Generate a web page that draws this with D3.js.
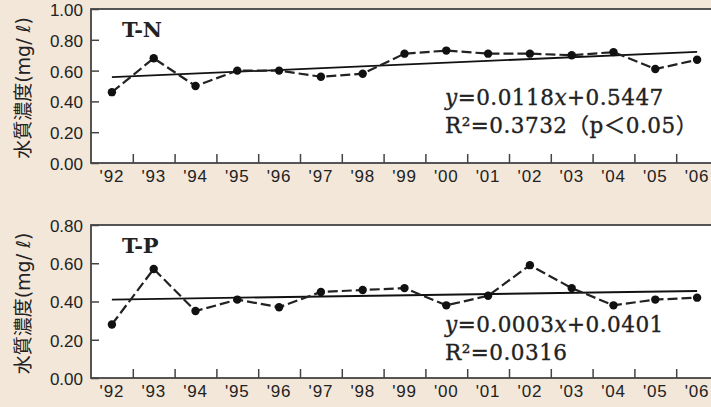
<!DOCTYPE html>
<html>
<head>
<meta charset="utf-8">
<script src="https://cdn.jsdelivr.net/npm/d3@7"></script>
<style>
  body { margin: 0; background: #f3e7da; }
  svg { display: block; }
</style>
</head>
<body>
<div id="canvas"></div>
<script>
const years = ["'92", "'93", "'94", "'95", "'96", "'97", "'98", "'99", "'00", "'01", "'02", "'03", "'04", "'05", "'06"];
const tnValues = [0.46, 0.68, 0.50, 0.60, 0.60, 0.56, 0.58, 0.71, 0.73, 0.71, 0.71, 0.70, 0.72, 0.61, 0.67];
const tpValues = [0.28, 0.57, 0.35, 0.41, 0.37, 0.45, 0.46, 0.47, 0.38, 0.43, 0.59, 0.47, 0.38, 0.41, 0.42];
// trend line values at '92 and '06
const tnTrend = [0.557, 0.722];
const tpTrend = [0.41, 0.455];
const tnTicks = [0, 0.2, 0.4, 0.6, 0.8, 1.0];
const tpTicks = [0, 0.2, 0.4, 0.6, 0.8];
const tnEq = ["y=0.0118x+0.5447", "R²=0.3732（p＜0.05）"];
const tpEq = ["y=0.0003x+0.0401", "R²=0.0316"];
const yTitle = "水質濃度(mg/ ℓ)";

const W = 711, H = 407;
const left = 91, right = 718;

const svg = d3.select("#canvas").append("svg")
    .attr("width", W)
    .attr("height", H);

const x = d3.scaleBand()
    .domain(years)
    .range([left, right])
    .padding(0);

const xb = d3.scaleLinear()
    .domain([0, years.length])
    .range([left, right]);

function panel(opts) {
    const y = d3.scaleLinear()
        .domain([0, opts.max])
        .range([opts.bottom, opts.top]);

    const g = svg.append("g");

    g.append("rect")
        .attr("x", left)
        .attr("y", opts.top)
        .attr("width", right - left)
        .attr("height", opts.bottom - opts.top)
        .attr("fill", "#fff")
        .attr("stroke", "#444")
        .attr("stroke-width", 1.8);

    // y axis, inward ticks
    const yAxis = g.append("g")
        .attr("transform", `translate(${left},0)`)
        .call(d3.axisLeft(y)
            .tickValues(opts.ticks)
            .tickSize(-8)
            .tickPadding(8)
            .tickFormat(d3.format(".2f")));
    yAxis.select(".domain").remove();
    yAxis.selectAll("line").attr("stroke", "#444").attr("stroke-width", 1.5);
    yAxis.selectAll("text")
        .attr("dy", "0.38em")
        .attr("font-family", "Liberation Sans, Arial, sans-serif")
        .attr("font-size", 17)
        .attr("fill", "#222");

    // x tick marks between years
    const xTicks = g.append("g")
        .attr("transform", `translate(0,${opts.bottom})`)
        .call(d3.axisBottom(xb)
            .tickValues(d3.range(1, years.length))
            .tickSize(-9)
            .tickFormat(""));
    xTicks.select(".domain").remove();
    xTicks.selectAll("line").attr("stroke", "#444").attr("stroke-width", 1.5);

    // x labels
    const xAxis = g.append("g")
        .attr("transform", `translate(0,${opts.bottom})`)
        .call(d3.axisBottom(x).tickSize(0).tickPadding(7));
    xAxis.select(".domain").remove();
    xAxis.selectAll("text")
        .attr("font-family", "Liberation Sans, Arial, sans-serif")
        .attr("font-size", 17)
        .attr("letter-spacing", 0.8)
        .attr("fill", "#222");

    // y title
    g.append("text")
        .attr("transform", `translate(30,${(opts.top + opts.bottom) / 2 + 2}) rotate(-90)`)
        .attr("text-anchor", "middle")
        .attr("font-family", "DejaVu Sans, Noto Sans CJK JP, sans-serif")
        .attr("font-size", 19)
        .attr("fill", "#222")
        .text(yTitle);

    const cx = (d, i) => x(years[i]) + x.bandwidth() / 2;

    // trend line
    g.append("line")
        .attr("x1", x(years[0]) + x.bandwidth() / 2)
        .attr("x2", x(years[years.length - 1]) + x.bandwidth() / 2)
        .attr("y1", y(opts.trend[0]))
        .attr("y2", y(opts.trend[1]))
        .attr("stroke", "#111")
        .attr("stroke-width", 1.8);

    // dashed series
    g.append("path")
        .datum(opts.values)
        .attr("fill", "none")
        .attr("stroke", "#222")
        .attr("stroke-width", 2.2)
        .attr("stroke-dasharray", "10,4")
        .attr("d", d3.line().x(cx).y(d => y(d)));

    g.selectAll("circle")
        .data(opts.values)
        .join("circle")
        .attr("cx", cx)
        .attr("cy", d => y(d))
        .attr("r", 4.2)
        .attr("fill", "#111");

    // label
    g.append("text")
        .attr("x", 122)
        .attr("y", opts.top + 28)
        .attr("font-family", "DejaVu Serif, serif")
        .attr("font-weight", "bold")
        .attr("font-size", 21)
        .attr("fill", "#222")
        .text(opts.label);

    // equations
    g.selectAll("text.eq")
        .data(opts.eq)
        .join("text")
        .attr("class", "eq")
        .attr("x", 445)
        .attr("y", (d, i) => opts.eqY + i * 28)
        .attr("font-family", "DejaVu Serif, Noto Sans CJK JP, serif")
        .attr("font-size", 21.5)
        .attr("letter-spacing", 0.5)
        .attr("fill", "#222")
        .attr("stroke", "#222")
        .attr("stroke-width", 0.35)
        .each(function (d, i) {
            const t = d3.select(this);
            if (i === 0) {
                t.append("tspan").attr("font-style", "italic").text("y");
                t.append("tspan").text(d.slice(1, d.indexOf("x")));
                t.append("tspan").attr("font-style", "italic").text("x");
                t.append("tspan").text(d.slice(d.indexOf("x") + 1));
            } else {
                t.text(d);
            }
        });
}

panel({ top: 9, bottom: 163, max: 1.0, ticks: tnTicks, values: tnValues, trend: tnTrend, label: "T-N", eq: tnEq, eqY: 105 });
panel({ top: 225, bottom: 378, max: 0.8, ticks: tpTicks, values: tpValues, trend: tpTrend, label: "T-P", eq: tpEq, eqY: 332 });
</script>
</body>
</html>
